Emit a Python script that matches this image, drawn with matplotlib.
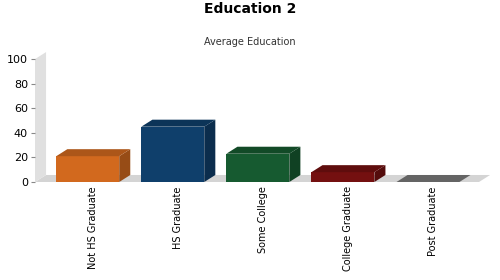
import numpy as np
import matplotlib.pyplot as plt
from matplotlib.patches import Polygon

categories = ["Not HS Graduate", "HS Graduate", "Some College", "College Graduate", "Post Graduate"]
values = [21, 45, 23, 8, 0]
colors = ["#d2691e", "#0f3f6b", "#165a30", "#741010", "#7a7a7a"]


def shade(c, f):
    r, g, b = plt.matplotlib.colors.to_rgb(c)
    return (r * f, g * f, b * f)


fig = plt.figure(figsize=(5, 2.8), dpi=100)
ax = fig.add_axes([0.07, 0.35, 0.888, 0.439])

xmin, xmax = -0.62, 4.6
ax.set_xlim(xmin, xmax)
ax.set_ylim(0, 100)
dx = 0.13   # depth offset, x
dy = 5.7    # depth offset, y
w = 0.74

# floor and back wall
ax.add_patch(Polygon([(xmin, 0), (xmax, 0), (xmax + dx, dy), (xmin + dx, dy)],
                     closed=True, fc="#d4d4d4", ec="none", clip_on=False, zorder=1))
ax.add_patch(Polygon([(xmin, 0), (xmin, 100), (xmin + dx, 100 + dy), (xmin + dx, dy)],
                     closed=True, fc="#e0e0e0", ec="none", clip_on=False, zorder=1))

x = np.arange(len(categories))
for xi, v, c in zip(x, values, colors):
    l, r = xi - w / 2, xi + w / 2
    ax.add_patch(Polygon([(l, 0), (r, 0), (r, v), (l, v)], closed=True,
                         fc=c, ec="none", clip_on=False, zorder=3))
    ax.add_patch(Polygon([(r, 0), (r, v), (r + dx, v + dy), (r + dx, dy)], closed=True,
                         fc=shade(c, 0.72), ec="none", clip_on=False, zorder=3))
    ax.add_patch(Polygon([(l, v), (r, v), (r + dx, v + dy), (l + dx, v + dy)], closed=True,
                         fc=shade(c, 0.82), ec="none", clip_on=False, zorder=3))

ax.set_xticks(x + dx / 2)
ax.set_xticklabels(categories, rotation=90, fontsize=7)
ax.tick_params(axis="x", length=0, pad=3)
ax.set_yticks([0, 20, 40, 60, 80, 100])
ax.tick_params(axis="y", length=3, color="#888888", labelsize=8, pad=2)
for s in ax.spines.values():
    s.set_visible(False)

fig.text(0.5, 0.967, "Education 2", ha="center", va="center", fontsize=10, fontweight="bold")
fig.text(0.5, 0.85, "Average Education", ha="center", va="center", fontsize=7, color="#333333")

fig.savefig("out.png", dpi=100)
